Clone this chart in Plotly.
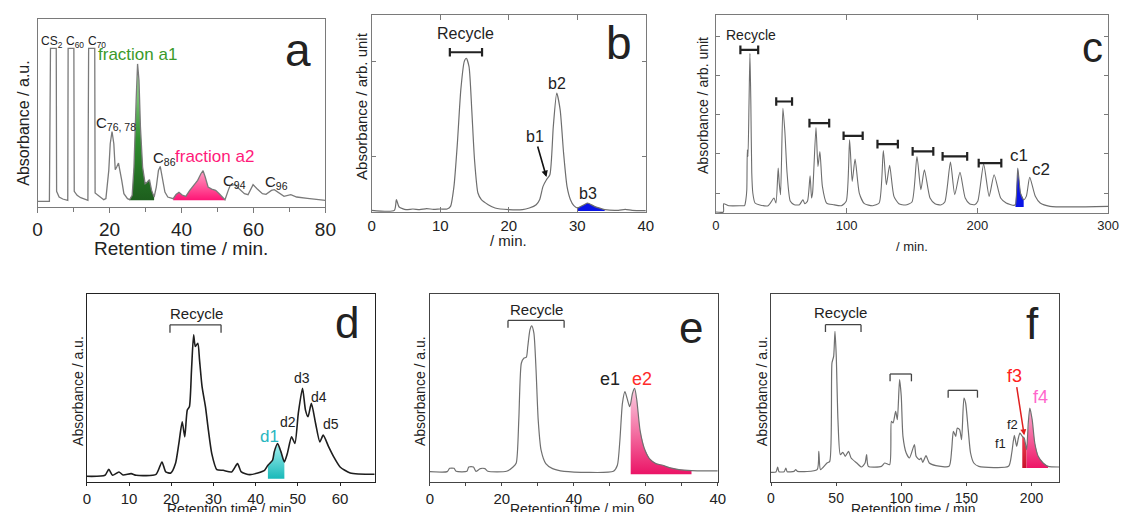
import plotly.graph_objects as go

W, H = 1131, 512
FONT = "Liberation Sans, Arial, sans-serif"

# ---------------- chromatogram data (retention time / min, detector signal / arb.) ----------------
a_time = [0, 3.3, 3.6, 5.2, 5.3, 6.0, 7.0, 8.0, 8.4, 8.5, 10.1, 10.2, 11.0, 12.0, 13.5, 14.0, 14.2, 15.9, 16.0,
          16.8, 17.6, 18.4, 19.0, 19.8, 20.2, 20.7, 21.2, 21.6, 22.0, 22.5, 23.4, 24.0, 25.0, 25.6, 26.3, 26.8,
          27.4, 27.8, 28.2, 28.6, 29.2, 29.9, 30.5, 31.1, 31.7, 32.4, 33.0, 33.6, 34.1, 34.7, 35.4, 36.2, 37.7,
          38.5, 39.3, 40.2, 41.2, 42.3, 43.5, 44.5, 45.4, 46.0, 46.6, 47.4, 48.4, 49.5, 50.5, 51.4, 52.1, 53.0,
          53.5, 54.8, 56.0, 57.5, 58.5, 59.9, 61.0, 62.5, 63.5, 65.0, 65.8, 67.0, 68.5, 70.4, 72.0, 75.0, 78.0, 80.0]
a_signal = [17, 17, 477, 477, 47, 30, 24, 22, 20, 477, 477, 47, 35, 28, 22, 20, 477, 477, 42,
            35, 30, 22, 25, 110, 190, 227, 190, 112, 120, 132, 80, 40, 25, 22, 35, 120,
            320, 430, 380, 240, 120, 70, 75, 82, 50, 30, 60, 110, 122, 90, 45, 30, 25,
            38, 44, 36, 32, 50, 65, 80, 100, 109, 90, 60, 54, 50, 40, 28, 22, 50,
            64, 67, 55, 40, 37, 67, 55, 40, 38, 50, 52, 42, 32, 37, 30, 26, 22, 20]

b_time = [0, 3.3, 3.6, 4.0, 5, 6, 7, 8, 9, 10, 11, 11.5, 12, 12.5, 13, 13.5, 13.8, 14.2, 14.6, 15, 15.5, 16,
          17, 18, 20, 22, 23, 24, 24.5, 25, 25.5, 26, 26.5, 27, 27.5, 28, 28.5, 29, 29.5, 30, 31, 31.5, 32.5,
          33.5, 34, 36, 37, 38, 40]
b_signal = [5, 5, 37, 15, 7, 9, 7, 10, 8, 9, 9, 17, 77, 207, 367, 452, 462, 437, 307, 157, 57, 37,
            22, 12, 7, 7, 12, 22, 37, 77, 97, 112, 257, 357, 307, 177, 77, 37, 19, 12, 22, 27, 17,
            10, 7, 5, 8, 5, 4]

c_time = [0, 5.8, 6.0, 10, 20, 22, 23, 23.7, 24.1, 24.6, 25.4, 26.1, 26.8, 27.5, 28.3, 30, 33, 40, 44.5, 46,
          47.7, 48.5, 49.5, 51.3, 52.8, 54.5, 57, 60, 64, 66.6, 68, 70.1, 72.1, 73.2, 74, 76.6, 78.1, 79.6,
          81.5, 84.7, 90, 96, 99.7, 102.3, 104.3, 106.5, 109.7, 113.6, 120, 124.9, 128.1, 130.4, 132.9,
          136.2, 140, 145, 150, 153.8, 156.8, 159.5, 163.8, 167.6, 172, 175.1, 179.4, 182.7, 186.7, 190.7,
          194, 198, 200.3, 204.8, 209, 212.8, 217.8, 222, 227.9, 229.1, 230.9, 233, 235.4, 237.4, 240,
          244.3, 248, 255.5, 300]
c_signal = [3, 3, 28, 22, 22, 22, 40, 70, 190, 170, 330, 480, 330, 120, 60, 30, 25, 22, 45, 30,
            135, 90, 55, 315, 245, 120, 35, 25, 25, 40, 28, 35, 112, 45, 60, 257, 140, 185,
            80, 30, 25, 22, 35, 220, 95, 162, 60, 28, 22, 30, 188, 85, 143,
            50, 28, 24, 33, 170, 70, 130, 45, 28, 24, 33, 153, 55, 122, 45,
            28, 25, 35, 147, 50, 115, 45, 30, 23, 25, 135, 60, 40, 50, 107,
            50, 30, 20, 20]

d_time = [0, 4.3, 5.2, 6.1, 7.6, 8.6, 10.5, 11.7, 16.4, 17.8, 18.7, 19.9, 21, 21.8, 22.6, 23.2, 23.8, 24.3,
          24.8, 25.3, 25.7, 26.3, 26.7, 27.3, 28.1, 28.8, 29.6, 30.8, 32.3, 34.3, 35.7, 36.6, 38.6, 40.5,
          42.1, 42.9, 44.0, 44.4, 45.2, 46.0, 46.8, 47.5, 48.5, 49.3, 50.1, 51.1, 51.8, 52.4, 53.2, 54.2,
          55.2, 56.0, 57.3, 58.5, 60, 62.4, 68.2]
d_signal = [17, 20, 38, 20, 30, 21, 25, 20, 23, 60, 30, 27, 55, 115, 180, 135, 215, 225,
            335, 440, 405, 415, 365, 285, 225, 155, 85, 37, 35, 30, 55, 30, 22, 27,
            35, 50, 65, 90, 115, 90, 60, 85, 135, 115, 205, 280, 215, 195, 235, 175,
            120, 140, 105, 75, 45, 27, 23]

e_time = [0, 4.8, 5.5, 6.7, 7.3, 10.3, 10.8, 12.1, 12.8, 14, 15.3, 16.1, 21.3, 23.1, 24, 24.7, 25.4, 26.1,
          26.8, 27.2, 27.8, 28.3, 28.9, 29.5, 30.1, 30.9, 32.2, 34.1, 37.3, 51, 52.1, 52.8, 53.5, 54.2,
          54.8, 55.5, 55.8, 56.3, 56.9, 57.5, 58.4, 59.6, 61, 62.8, 64.7, 66.5, 69.2, 72.7, 80]
e_signal = [31, 31, 41, 41, 32, 32, 45, 45, 32, 40, 40, 32, 32, 45, 57, 185, 355, 370,
            373, 405, 455, 467, 445, 335, 185, 95, 55, 40, 32, 32, 50, 125, 235, 270,
            250, 225, 235, 265, 280, 245, 155, 100, 70, 55, 50, 43, 37, 34, 33]

f_time = [0, 3.8, 5.1, 6.1, 10.1, 11.4, 12.4, 17.7, 19, 20.3, 35.4, 36.7, 38, 43, 45.1, 46.8, 48.1, 49.1,
          50.1, 51.4, 53.2, 55.2, 57, 59.5, 61.5, 65.8, 69.6, 72.2, 73.4, 74.7, 84.8, 87.3, 91.1, 92.4,
          93.7, 95.7, 97, 98.7, 100, 101.3, 103.8, 106.3, 110.1, 111.4, 113.9, 115.2, 116.5, 119, 121.5,
          126.6, 136.7, 138.7, 140, 141.8, 143, 144.8, 146.3, 148.1, 149.4, 151.4, 153.2, 155.7, 159.5,
          182.3, 184.8, 186.8, 188.6, 189.9, 191.1, 192.9, 194.4, 196.2, 197.5, 198.7, 200.5, 202.5,
          205.1, 208.9, 212.7, 222]
f_signal = [29, 30, 45, 31, 31, 42, 31, 32, 37, 32, 37, 92, 37, 57, 62, 357, 377, 452,
            377, 187, 82, 89, 77, 92, 72, 57, 45, 57, 82, 47, 47, 57, 52, 182,
            177, 212, 187, 307, 257, 137, 87, 72, 112, 77, 67, 72, 59, 79, 57,
            49, 47, 97, 152, 137, 162, 157, 127, 252, 237, 157, 87, 57, 47,
            47, 87, 140, 107, 132, 147, 137, 132, 97, 177, 222, 187, 117,
            77, 57, 47, 45]

# collected fractions: (start, stop, base level)
a1_cut = (25.6, 32.4, 20)
a2_cut = (37.7, 52.1, 20)
b3_cut = (30.0, 34.0, 3)
c1_cut = (229.1, 235.4, 18)
d1_cut = (42.9, 46.8, 10)
e2_cut = (55.8, 72.7, 23)
f3_cut = (192.9, 196.2, 42)
f4_cut = (196.2, 212.7, 42)

# recycle windows: (start, stop, level)
b_recycle = [(11.4, 16.1, 480)]
c_recycle = [(18.8, 32.4, 490), (46.2, 58.3, 335), (71.6, 86.7, 270), (97.7, 112.3, 232),
             (123.6, 139.2, 207), (150.5, 166.3, 185), (173.4, 192.2, 170), (201.0, 218.3, 150)]
d_recycle = [(19.7, 31.8, 470)]
e_recycle = [(21.7, 37.3, 483)]
f_recycle = [(41.8, 69.1, 472), (91.4, 107.8, 324), (136.0, 158.5, 275)]

e_tick_vals = [0, 20, 40, 60, 80]
e_tick_text = ["0", "20", "40", "60", "40"]

fig = go.Figure()


def dom(x0, x1, y0, y1):
    return [x0 / W, x1 / W], [1 - y1 / H, 1 - y0 / H]


def cut(t, v, window):
    lo, hi, base = window
    xs = [ti for ti in t if lo <= ti <= hi]
    ys = [vi for ti, vi in zip(t, v) if lo <= ti <= hi]
    return xs + [xs[-1], xs[0]], ys + [base, base]


def add_fill(t, v, window, ax, colorscale=None, color=None):
    xs, ys = cut(t, v, window)
    kw = dict(x=xs, y=ys, mode="lines", line=dict(width=0), fill="toself",
              xaxis=ax[0], yaxis=ax[1], showlegend=False, hoverinfo="skip")
    if colorscale:
        kw["fillgradient"] = dict(type="vertical", colorscale=colorscale,
                                  start=window[2], stop=max(ys))
        kw["fillcolor"] = colorscale[0][1]
    else:
        kw["fillcolor"] = color
    fig.add_trace(go.Scatter(**kw))


def add_curve(t, v, ax, color, width=1.2, shape="spline"):
    fig.add_trace(go.Scatter(x=t, y=v, mode="lines", xaxis=ax[0], yaxis=ax[1],
                             line=dict(color=color, width=width, shape=shape, smoothing=0.6),
                             showlegend=False, hoverinfo="skip"))


# fills first, then the traces on top
add_fill(a_time, a_signal, a1_cut, ("x", "y"), [[0, "#1d5e1d"], [0.45, "#2f8f2f"], [1, "#b4f0aa"]])
add_fill(a_time, a_signal, a2_cut, ("x", "y"), [[0, "#ff1475"], [1, "#ffa3c6"]])
add_curve(a_time, a_signal, ("x", "y"), "#7a7a7a", 1.3, "linear")

add_fill(b_time, b_signal, b3_cut, ("x2", "y2"), color="#0a14e6")
add_curve(b_time, b_signal, ("x2", "y2"), "#6e6e6e", 1.2)

add_fill(c_time, c_signal, c1_cut, ("x3", "y3"), color="#0a14e6")
add_curve(c_time, c_signal, ("x3", "y3"), "#6e6e6e", 1.1)

add_fill(d_time, d_signal, d1_cut, ("x4", "y4"), [[0, "#19b9b9"], [1, "#a6f1f1"]])
add_curve(d_time, d_signal, ("x4", "y4"), "#1e1e1e", 1.6)

add_fill(e_time, e_signal, e2_cut, ("x5", "y5"), [[0, "#eb1466"], [1, "#fbd0e2"]])
add_curve(e_time, e_signal, ("x5", "y5"), "#707070", 1.2)

add_fill(f_time, f_signal, f3_cut, ("x6", "y6"), [[0, "#c8102a"], [1, "#f04050"]])
add_fill(f_time, f_signal, f4_cut, ("x6", "y6"), [[0, "#ee1466"], [1, "#fbb0d2"]])
add_curve(f_time, f_signal, ("x6", "y6"), "#707070", 1.2)

# ---------------- axes ----------------
def xaxis(domain, rng, anchor, tickvals, size, inside=False, minor=None, color="#777", ticktext=None, ticklen=5):
    d = dict(domain=domain, range=rng, anchor=anchor, tickvals=tickvals, showgrid=False, zeroline=False,
             showline=True, linecolor=color, linewidth=1.3, mirror="allticks" if inside else True,
             ticks="inside" if inside else "outside", ticklen=ticklen, tickcolor=color, tickwidth=1,
             tickfont=dict(family=FONT, size=size, color="#222"), fixedrange=True)
    if ticktext:
        d["ticktext"] = ticktext
    if minor:
        d["minor"] = dict(dtick=minor, ticks="outside", ticklen=min(ticklen, 4), tickcolor=color)
    return d


def yaxis(domain, rng, anchor, tickvals=None, color="#777"):
    d = dict(domain=domain, range=rng, anchor=anchor, showgrid=False, zeroline=False, showticklabels=False,
             showline=True, linecolor=color, linewidth=1.3, mirror=True, fixedrange=True)
    if tickvals:
        d.update(tickvals=tickvals, ticks="inside", ticklen=4, tickcolor=color, mirror="allticks")
    else:
        d.update(ticks="")
    return d


xa, ya = dom(33, 325, 19, 207)
xb, yb = dom(372, 650, 15, 212)
xc, yc = dom(721, 1119, 15, 213)
xd, yd = dom(83, 375, 294, 482)
xe, ye = dom(431, 723, 294, 482)
xf, yf = dom(777, 1069, 294, 482)

fig.update_layout(
    width=W, height=H, margin=dict(l=0, r=0, t=0, b=0),
    paper_bgcolor="white", plot_bgcolor="white",
    font=dict(family=FONT, color="#222"),
    xaxis=xaxis(xa, [0, 80], "y", [0, 20, 40, 60, 80], 19, minor=10, color="#7a7a7a"),
    yaxis=yaxis(ya, [0, 565], "x", color="#7a7a7a"),
    xaxis2=xaxis(xb, [0, 40], "y2", [0, 10, 20, 30, 40], 15, inside=True, color="#7a7a7a"),
    yaxis2=yaxis(yb, [0, 592], "x2", tickvals=[167, 452], color="#7a7a7a"),
    xaxis3=xaxis(xc, [0, 300], "y3", [0, 100, 200, 300], 13, inside=True, color="#7a7a7a"),
    yaxis3=yaxis(yc, [0, 595], "x3", tickvals=[60, 178, 295, 412, 530], color="#7a7a7a"),
    xaxis4=xaxis(xd, [0, 68.2], "y4", [0, 10, 20, 30, 40, 50, 60], 15, color="#222", ticklen=3),
    yaxis4=yaxis(yd, [0, 562], "x4", color="#222"),
    xaxis5=xaxis(xe, [0, 80], "y5", e_tick_vals, 15, minor=10, color="#444", ticktext=e_tick_text, ticklen=3),
    yaxis5=yaxis(ye, [0, 562], "x5", color="#444"),
    xaxis6=xaxis(xf, [0, 221], "y6", [0, 50, 100, 150, 200], 14, color="#444", ticklen=3),
    yaxis6=yaxis(yf, [0, 564], "x6", color="#444"),
)

ann = []
shapes = []


def ptext(px, py, text, size, color="#222", angle=0, yanchor="middle"):
    ann.append(dict(x=px / W, y=1 - py / H, xref="paper", yref="paper", text=text, showarrow=False,
                    textangle=angle, xanchor="center", yanchor=yanchor,
                    font=dict(family=FONT, size=size, color=color)))


def dtext(ax, x, y, text, size, color="#222"):
    ann.append(dict(x=x, y=y, xref=ax[0], yref=ax[1], text=text, showarrow=False,
                    xanchor="center", yanchor="middle", font=dict(family=FONT, size=size, color=color)))


# axis titles
ptext(18, 123, "Absorbance / a.u.", 16, angle=-90)
ptext(179, 248, "Retention time / min.", 19)
ptext(361, 106, "Absorbance / arb. unit", 15, angle=-90)
ptext(511, 240, "/ min.", 15)
ptext(708, 105, "Absorbance / arb. unit", 14, angle=-90)
ptext(920, 246, "/ min.", 13)
for cx, tx in ((74, 229), (421, 577), (768, 923)):
    ptext(cx, 391, "Absorbance / a.u.", 14, angle=-90)
    ptext(tx, 499, "Retention time / min.", 14, yanchor="top")

# panel letters
ptext(297, 50, "a", 46)
ptext(623, 43, "b", 46)
ptext(1103, 47, "c", 42)
ptext(347, 322, "d", 44)
ptext(696, 327, "e", 44)
ptext(1042, 323, "f", 44)

# panel a labels
dtext(("x", "y"), 4.0, 497, "CS<sub>2</sub>", 12)
dtext(("x", "y"), 10.3, 497, "C<sub>60</sub>", 12)
dtext(("x", "y"), 16.5, 497, "C<sub>70</sub>", 12)
dtext(("x", "y"), 27.9, 457, "fraction a1", 17, "#3a9a2a")
dtext(("x", "y"), 21.7, 250, "C<sub>76, 78</sub>", 15)
dtext(("x", "y"), 35.4, 145, "C<sub>86</sub>", 15)
dtext(("x", "y"), 49.1, 152, "fraction a2", 17, "#ff1a7a")
dtext(("x", "y"), 54.6, 78, "C<sub>94</sub>", 15)
dtext(("x", "y"), 66.5, 75, "C<sub>96</sub>", 15)

# panel b labels
dtext(("x2", "y2"), 13.7, 537, "Recycle", 16)
dtext(("x2", "y2"), 27.1, 385, "b2", 16)
dtext(("x2", "y2"), 31.6, 57, "b3", 16)
ann.append(dict(x=25.5, y=105, xref="x2", yref="y2", ax=23.8, ay=227, axref="x2", ayref="y2",
                text="b1", showarrow=True, arrowhead=2, arrowsize=0.8, arrowwidth=1.6, arrowcolor="#111",
                font=dict(family=FONT, size=16, color="#222")))

# panel c labels
dtext(("x3", "y3"), 26.9, 535, "Recycle", 14)
dtext(("x3", "y3"), 231.7, 172, "c1", 17)
dtext(("x3", "y3"), 248.5, 130, "c2", 17)

# panel d labels
dtext(("x4", "y4"), 25.9, 503, "Recycle", 15)
dtext(("x4", "y4"), 43.3, 135, "d1", 17, "#29b6c0")
dtext(("x4", "y4"), 47.7, 180, "d2", 14)
dtext(("x4", "y4"), 50.9, 310, "d3", 14)
dtext(("x4", "y4"), 54.9, 255, "d4", 14)
dtext(("x4", "y4"), 57.9, 173, "d5", 14)

# panel e labels
dtext(("x5", "y5"), 29.5, 515, "Recycle", 15)
dtext(("x5", "y5"), 50.0, 307, "e1", 18)
dtext(("x5", "y5"), 58.9, 307, "e2", 18, "#ff2a2a")

# panel f labels
dtext(("x6", "y6"), 53.2, 509, "Recycle", 15)
dtext(("x6", "y6"), 176.0, 117, "f1", 13)
dtext(("x6", "y6"), 185.3, 172, "f2", 13)
dtext(("x6", "y6"), 207.0, 255, "f4", 18, "#ff66cc")
ann.append(dict(x=194.4, y=140, xref="x6", yref="y6", ax=187.3, ay=319, axref="x6", ayref="y6",
                text="f3", showarrow=True, arrowhead=2, arrowsize=0.8, arrowwidth=1.5, arrowcolor="#e02020",
                font=dict(family=FONT, size=18, color="#ff2020")))


# recycle brackets
def hbar(ax, windows, cap, color, width, down_only=False):
    for lo, hi, lvl in windows:
        shapes.append(dict(type="line", xref=ax[0], yref=ax[1], x0=lo, x1=hi, y0=lvl, y1=lvl,
                           line=dict(color=color, width=width)))
        for xv in (lo, hi):
            y0 = lvl - cap
            y1 = lvl if down_only else lvl + cap
            shapes.append(dict(type="line", xref=ax[0], yref=ax[1], x0=xv, x1=xv, y0=y0, y1=y1,
                               line=dict(color=color, width=width)))


hbar(("x2", "y2"), b_recycle, 13, "#222", 2.2)
hbar(("x3", "y3"), c_recycle, 13, "#222", 2.2)
hbar(("x4", "y4"), d_recycle, 24, "#444", 1.3, True)
hbar(("x5", "y5"), e_recycle, 22, "#444", 1.3, True)
hbar(("x6", "y6"), f_recycle, 22, "#444", 1.3, True)

fig.update_layout(annotations=ann, shapes=shapes)
fig.write_html("out.html")
